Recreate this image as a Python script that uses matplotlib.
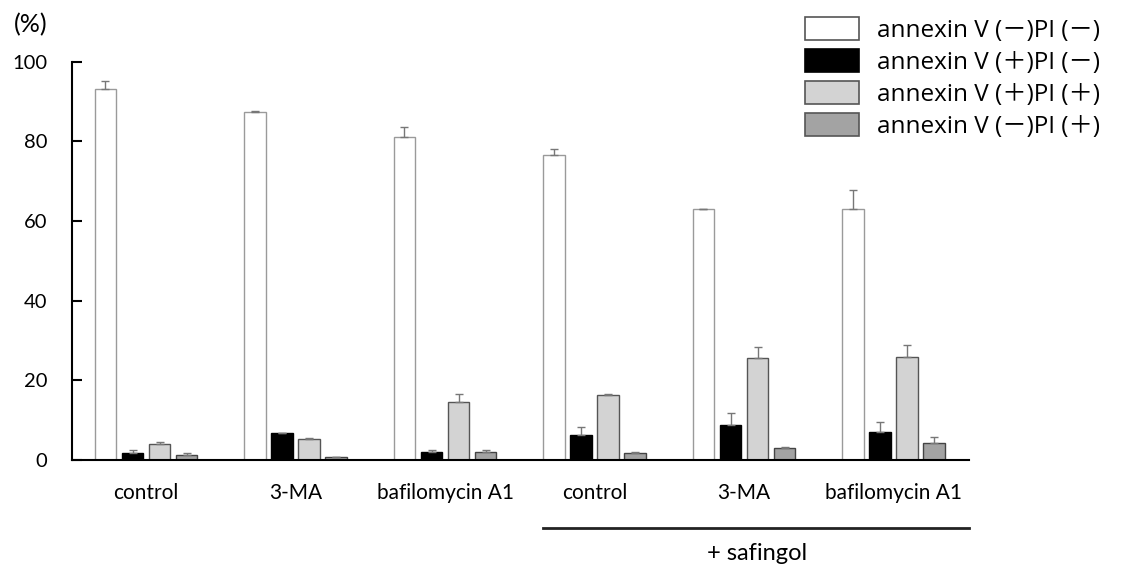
import numpy as np
import matplotlib
matplotlib.use("Agg")
import matplotlib.pyplot as plt
from matplotlib.patches import Patch

# values (%), mean and upper error
groups = ["control", "3-MA", "bafilomycin A1", "control", "3-MA", "bafilomycin A1"]
series_labels = [
    "annexin V (－)PI (－)",
    "annexin V (＋)PI (－)",
    "annexin V (＋)PI (＋)",
    "annexin V (－)PI (＋)",
]
neg_neg = [93.1, 87.3, 81.2, 76.6, 62.9, 62.9]
neg_neg_err = [2.1, 0.3, 2.5, 1.5, 0.2, 4.9]
pos_neg = [1.7, 6.7, 2.1, 6.3, 8.8, 7.1]
pos_neg_err = [0.8, 0.2, 0.5, 2.1, 3.1, 2.5]
pos_pos = [4.0, 5.4, 14.6, 16.3, 25.5, 25.9]
pos_pos_err = [0.5, 0.2, 2.1, 0.3, 2.8, 3.1]
neg_pos = [1.2, 0.75, 2.1, 1.7, 2.9, 4.2]
neg_pos_err = [0.6, 0.1, 0.3, 0.2, 0.3, 1.5]
yticks = [0, 20, 40, 60, 80, 100]

values = [neg_neg, pos_neg, pos_pos, neg_pos]
errors = [neg_neg_err, pos_neg_err, pos_pos_err, neg_pos_err]
faces = ["white", "black", "#d3d3d3", "#a3a3a3"]
edges = ["#9a9a9a", "black", "#555555", "#444444"]

fig = plt.figure(figsize=(11.22, 5.65), dpi=100)
ax = fig.add_axes([0.0642, 0.1858, 0.7995, 0.705])

x = np.arange(len(groups))
pitch = 0.181
width = 0.144
for i, (vals, errs) in enumerate(zip(values, errors)):
    pos = x + (i - 1.5) * pitch
    ax.bar(pos, vals, width=width, color=faces[i], edgecolor=edges[i],
           linewidth=1.0, zorder=2)
    ax.errorbar(pos, vals, yerr=[np.zeros(len(errs)), errs], fmt="none",
                ecolor="#777777", elinewidth=1.0, capsize=3, capthick=1.0,
                zorder=3)

ax.set_xlim(-0.495, 5.505)
ax.set_ylim(0, 100)
ax.set_yticks(yticks)
ax.set_xticks([])
for side in ["top", "right"]:
    ax.spines[side].set_visible(False)
ax.spines["left"].set_linewidth(1.5)
ax.spines["bottom"].set_linewidth(1.5)
ax.tick_params(axis="y", direction="in", length=7, width=1.5, pad=18,
               labelsize=14.5)
for lab in ax.get_yticklabels():
    lab.set_family("Lato")

for xi, name in zip(x, groups):
    ax.annotate(name, (xi, 0), xytext=(0, -24), textcoords="offset points",
                ha="center", va="center", fontsize=15, family="Lato",
                annotation_clip=False)

# "+ safingol" bracket under the last three groups
fig.add_artist(plt.Line2D([543 / 1122, 969 / 1122], [1 - 528 / 565, 1 - 528 / 565],
                          color="#222222", linewidth=2.0))
fig.text(757 / 1122, 1 - 553 / 565, "+ safingol", ha="center", va="center",
         fontsize=17, family="Lato")

fig.text(14 / 1122, 1 - 25 / 565, "(%)", ha="left", va="center",
         fontsize=18, family="Lato")

handles = [Patch(facecolor=f, edgecolor=("#555555" if f != "black" else "black"),
                 linewidth=1.2) for f in faces]
fig.legend(handles, series_labels, loc="upper left",
           bbox_to_anchor=(805 / 1122, 1 - 17 / 565), frameon=False,
           prop={"family": ["Open Sans", "Noto Sans CJK JP"], "size": 17.5},
           handlelength=2.22, handleheight=1.05, labelspacing=0.27,
           handletextpad=0.74, borderpad=0, borderaxespad=0)

fig.savefig("out.png", dpi=100)
